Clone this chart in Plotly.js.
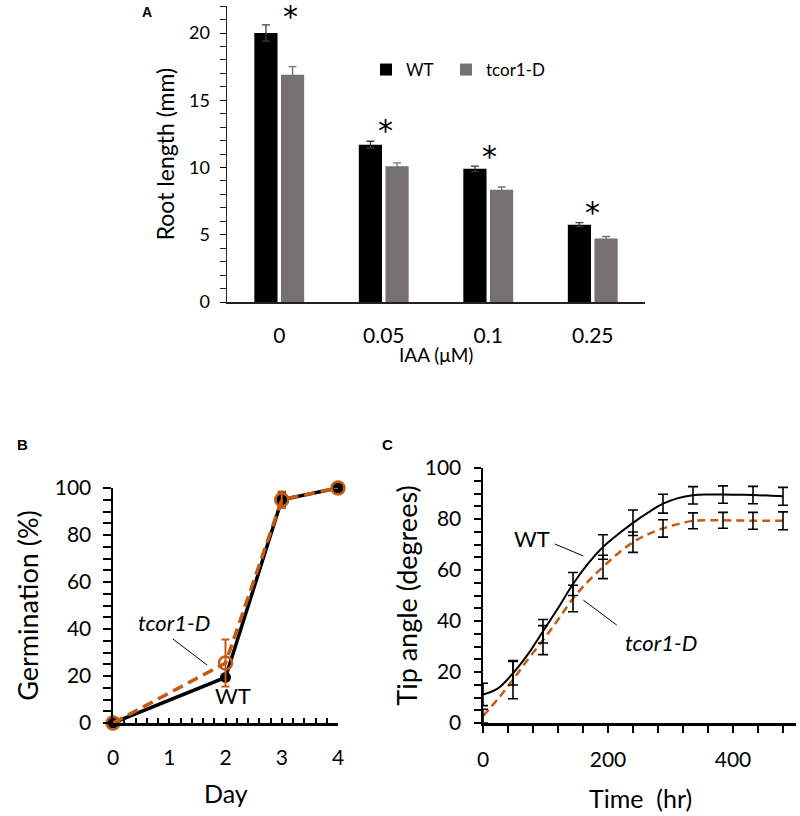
<!DOCTYPE html>
<html><head><meta charset="utf-8">
<script src="https://cdn.plot.ly/plotly-3.0.1.min.js"></script>
<style>html,body{margin:0;padding:0;background:#fff}#chart{width:800px;height:816px}</style>
</head><body><div id="chart"></div>
<script>
// ---------- Panel A : root length ----------
const iaaLevels = ['0', '0.05', '0.1', '0.25'];
const rootWT = [20.0, 11.7, 9.9, 5.75];
const rootWTErr = [0.6, 0.25, 0.2, 0.15];
const rootMut = [16.9, 10.1, 8.35, 4.72];
const rootMutErr = [0.6, 0.25, 0.2, 0.15];
const starY = [21.7, 13.2, 11.3, 7.1];
const starShift = [11, 2, 1, 0];

// ---------- Panel B : germination ----------
const days = [0, 2, 3, 4];
const germWT = [0, 19.4, 95, 100];
const germWTErr = [0, 0, 3, 0];
const germMut = [0, 25.5, 95, 100];
const germMutErr = [0, 10, 3.5, 0];

// ---------- Panel C : tip angle ----------
const timeHr = [0, 24, 48, 72, 96, 120, 144, 168, 192, 216, 240, 264, 288, 312, 336, 360, 384, 408, 432, 456, 480];
const tipWT = [11.2, 13.6, 19.5, 27, 36, 45, 54.5, 62.5, 69, 74, 78.5, 82.5, 86, 88.2, 89.3, 89.6, 89.6, 89.5, 89.4, 89.2, 88.9];
const tipMut = [2.7, 9.5, 17, 25, 32.5, 40.5, 48.8, 55.5, 61.2, 66.5, 70.9, 74, 76.3, 78, 79.3, 79.5, 79.5, 79.4, 79.3, 79.3, 79.3];
// SE bars are shown every 48 h (every second sample)
const tipWTErr = [4.4, 4.6, 4.6, 4.5, 4.8, 5.0, 3.7, 3.4, 3.4, 3.4, 3.5];
const tipMutErr = [2.7, 7.5, 5.7, 5.2, 4.6, 4.0, 3.4, 3.1, 3.1, 3.3, 3.5];

const ORANGE = '#C55A11';
const GREY = '#767171';
const FONT = 'Lato, "Open Sans", sans-serif';
const every2 = arr => arr.filter((v, i) => i % 2 === 0);

const traces = [
  {type: 'bar', name: 'WT', x: iaaLevels, y: rootWT, xaxis: 'x', yaxis: 'y', legend: 'legend',
   marker: {color: '#000000'},
   error_y: {type: 'data', array: rootWTErr, visible: true, color: '#3a3a3a', thickness: 1.3, width: 4}},
  {type: 'bar', name: 'tcor1-D', x: iaaLevels, y: rootMut, xaxis: 'x', yaxis: 'y', legend: 'legend2',
   marker: {color: GREY},
   error_y: {type: 'data', array: rootMutErr, visible: true, color: GREY, thickness: 1.3, width: 4}},

  {type: 'scatter', mode: 'lines+markers', x: days, y: germWT, xaxis: 'x2', yaxis: 'y2', showlegend: false,
   line: {color: '#000', width: 3.5}, marker: {color: '#000', size: 11}, cliponaxis: false,
   error_y: {type: 'data', array: germWTErr, visible: true, color: '#000', thickness: 2, width: 4}},
  {type: 'scatter', mode: 'lines+markers', x: days, y: germMut, xaxis: 'x2', yaxis: 'y2', showlegend: false,
   line: {color: ORANGE, width: 3.5, dash: '11px,6px'},
   marker: {symbol: 'circle-open', color: ORANGE, size: 13, line: {width: 2.5, color: ORANGE}}, cliponaxis: false,
   error_y: {type: 'data', array: germMutErr, visible: true, color: ORANGE, thickness: 2, width: 4}},
  // no-mark trace that builds the label-carrying axis of panel B
  {type: 'scatter', mode: 'none', x: days, y: germWT, xaxis: 'x4', yaxis: 'y2', showlegend: false, hoverinfo: 'skip'},

  {type: 'scatter', mode: 'lines', x: timeHr, y: tipWT, xaxis: 'x3', yaxis: 'y3', showlegend: false,
   line: {color: '#000', width: 2, shape: 'spline'}, cliponaxis: false},
  {type: 'scatter', mode: 'lines', x: timeHr, y: tipMut, xaxis: 'x3', yaxis: 'y3', showlegend: false,
   line: {color: ORANGE, width: 2.5, shape: 'spline', dash: '8px,5px'}, cliponaxis: false},
  {type: 'scatter', mode: 'markers', x: every2(timeHr), y: every2(tipWT), xaxis: 'x3', yaxis: 'y3', showlegend: false,
   marker: {size: 1, opacity: 0}, cliponaxis: false, hoverinfo: 'skip',
   error_y: {type: 'data', array: tipWTErr, visible: true, color: '#000', thickness: 1.6, width: 5}},
  {type: 'scatter', mode: 'markers', x: every2(timeHr), y: every2(tipMut), xaxis: 'x3', yaxis: 'y3', showlegend: false,
   marker: {size: 1, opacity: 0}, cliponaxis: false, hoverinfo: 'skip',
   error_y: {type: 'data', array: tipMutErr, visible: true, color: '#000', thickness: 1.6, width: 5}},
  // no-mark trace that builds the label-carrying axis of panel C
  {type: 'scatter', mode: 'none', x: timeHr, y: tipWT, xaxis: 'x5', yaxis: 'y3', showlegend: false, hoverinfo: 'skip'}
];

const txt = (o) => Object.assign({showarrow: false, xanchor: 'center', yanchor: 'middle'}, o);
const annotations = [
  txt({xref: 'paper', yref: 'paper', x: 147 / 800, y: 1 - 12 / 816, text: '<b>A</b>',
   font: {family: '"Liberation Sans", Arial, sans-serif', size: 14, color: '#000'}}),
  txt({xref: 'paper', yref: 'paper', x: 22 / 800, y: 1 - 445 / 816, text: '<b>B</b>',
   font: {family: '"Liberation Sans", Arial, sans-serif', size: 15, color: '#000'}}),
  txt({xref: 'paper', yref: 'paper', x: 387 / 800, y: 1 - 445 / 816, text: '<b>C</b>',
   font: {family: '"Liberation Sans", Arial, sans-serif', size: 15, color: '#000'}}),
  txt({xref: 'paper', yref: 'paper', x: 436 / 800, y: 1 - 354 / 816, text: 'IAA (μM)',
   font: {family: FONT, size: 19, color: '#000'}}),
  txt({xref: 'paper', yref: 'paper', x: 225.5 / 800, y: 1 - 793 / 816, text: 'Day',
   font: {family: FONT, size: 25, color: '#000'}}),
  txt({xref: 'paper', yref: 'paper', x: 640 / 800, y: 1 - 798 / 816, text: 'Time&nbsp; (hr)',
   font: {family: FONT, size: 25, color: '#000'}}),
  txt({xref: 'x2', yref: 'y2', x: 1.08, y: 42.9, text: '<i>tcor1-D</i>',
   font: {family: FONT, size: 22, color: '#000'}}),
  txt({xref: 'x2', yref: 'y2', x: 2.13, y: 11.5, text: 'WT',
   font: {family: FONT, size: 22, color: '#000'}}),
  txt({xref: 'x3', yref: 'y3', x: 79, y: 72.5, text: 'WT',
   font: {family: FONT, size: 22, color: '#000'}}),
  txt({xref: 'x3', yref: 'y3', x: 285, y: 31.4, text: '<i>tcor1-D</i>',
   font: {family: FONT, size: 22, color: '#000'}})
];
iaaLevels.forEach((c, i) => {
  annotations.push(txt({xref: 'x', yref: 'y', x: i, y: starY[i], text: '*',
    xshift: starShift[i], yshift: -6,
    font: {family: '"DejaVu Sans", sans-serif', size: 30, color: '#000'}}));
});

const shapes = [
  {type: 'line', xref: 'x2', yref: 'y2', x0: 1.067, y0: 35.7, x1: 1.671, y1: 24.7, line: {color: '#000', width: 1}},
  {type: 'line', xref: 'x3', yref: 'y3', x0: 115, y0: 70.2, x1: 160.5, y1: 65.5, line: {color: '#000', width: 1}},
  {type: 'line', xref: 'x3', yref: 'y3', x0: 160.5, y0: 48.2, x1: 214, y1: 38.4, line: {color: '#000', width: 1}}
];

const axBase = {showgrid: false, zeroline: false, showline: true, linecolor: '#000', tickcolor: '#000',
  tickfont: {family: FONT, color: '#000'}};
const legBase = {orientation: 'h', xanchor: 'left', yanchor: 'middle', y: 1 - 70 / 816,
  font: {family: FONT, size: 17, color: '#000'}, bgcolor: 'rgba(0,0,0,0)', itemwidth: 30};

const layout = {
  width: 800, height: 816,
  margin: {l: 0, r: 0, t: 0, b: 0},
  paper_bgcolor: '#fff', plot_bgcolor: 'rgba(0,0,0,0)',
  font: {family: FONT, color: '#000'},
  barmode: 'group', bargap: 0.49, bargroupgap: 0.13,
  showlegend: true,
  legend: Object.assign({}, legBase, {x: 366 / 800}),
  legend2: Object.assign({}, legBase, {x: 446 / 800}),
  xaxis: Object.assign({}, axBase, {domain: [227 / 800, 645 / 800], anchor: 'y', type: 'category',
    range: [-0.5, 3.5], ticks: '', linewidth: 1.5, linecolor: '#222',
    tickfont: {family: FONT, size: 21, color: '#000'}, ticklabelstandoff: 14}),
  yaxis: Object.assign({}, axBase, {domain: [1 - 302 / 816, 1 - 6.1 / 816], anchor: 'x',
    range: [0, 22], dtick: 5, tick0: 0, ticks: 'outside', ticklen: 6, tickwidth: 1, linewidth: 1.5, linecolor: '#222',
    minor: {dtick: 1, tick0: 0, ticks: 'outside', ticklen: 6, tickwidth: 1, tickcolor: '#222', showgrid: false},
    tickfont: {family: FONT, size: 18, color: '#000'}, ticklabelstandoff: 6,
    title: {text: 'Root length (mm)', font: {family: FONT, size: 23, color: '#000'}, standoff: 8}}),

  xaxis2: Object.assign({}, axBase, {domain: [113 / 800, 338 / 800], anchor: 'y2',
    range: [0, 4], dtick: 1, tick0: 0, ticks: 'inside', ticklen: 5, tickwidth: 2, linewidth: 2.5,
    minor: {dtick: 0.2, tick0: 0, ticks: 'inside', ticklen: 5, tickwidth: 2, tickcolor: '#000', showgrid: false},
    showticklabels: false}),
  xaxis4: {domain: [113 / 800, 338 / 800], anchor: 'free', overlaying: 'x2', position: 1 - 743 / 816,
    range: [0, 4], dtick: 1, tick0: 0, ticks: '', showline: false, showgrid: false, zeroline: false,
    tickfont: {family: FONT, size: 21, color: '#000'}},
  yaxis2: Object.assign({}, axBase, {domain: [1 - 723 / 816, 1 - 488 / 816], anchor: 'x2',
    range: [0, 100], dtick: 20, tick0: 0, ticks: 'outside', ticklen: 8, tickwidth: 2, linewidth: 2.5,
    minor: {dtick: 5, tick0: 0, ticks: 'outside', ticklen: 8, tickwidth: 2, tickcolor: '#000', showgrid: false},
    tickfont: {family: FONT, size: 21, color: '#000'}, ticklabelstandoff: 7,
    title: {text: 'Germination (%)', font: {family: FONT, size: 27, color: '#000'}, standoff: 9}}),

  xaxis3: Object.assign({}, axBase, {domain: [483 / 800, 795.5 / 800], anchor: 'y3',
    range: [0, 500], dtick: 200, tick0: 0, ticks: 'outside', ticklen: 7, tickwidth: 2, linewidth: 2.5,
    minor: {dtick: 40, tick0: 0, ticks: 'outside', ticklen: 7, tickwidth: 2, tickcolor: '#000', showgrid: false},
    showticklabels: false}),
  xaxis5: {domain: [483 / 800, 795.5 / 800], anchor: 'free', overlaying: 'x3', position: 1 - 745 / 816,
    range: [0, 500], dtick: 200, tick0: 0, ticks: '', showline: false, showgrid: false, zeroline: false,
    tickfont: {family: FONT, size: 21, color: '#000'}},
  yaxis3: Object.assign({}, axBase, {domain: [1 - 723 / 816, 1 - 468 / 816], anchor: 'x3',
    range: [0, 100], dtick: 20, tick0: 0, ticks: 'outside', ticklen: 7, tickwidth: 2, linewidth: 2.5,
    minor: {dtick: 5, tick0: 0, ticks: 'outside', ticklen: 7, tickwidth: 2, tickcolor: '#000', showgrid: false},
    tickfont: {family: FONT, size: 21, color: '#000'}, ticklabelstandoff: 8,
    title: {text: 'Tip angle (degrees)', font: {family: FONT, size: 27, color: '#000'}, standoff: 0}}),
  annotations: annotations,
  shapes: shapes
};

Plotly.newPlot('chart', traces, layout, {staticPlot: true, displayModeBar: false});
</script>
</body></html>
